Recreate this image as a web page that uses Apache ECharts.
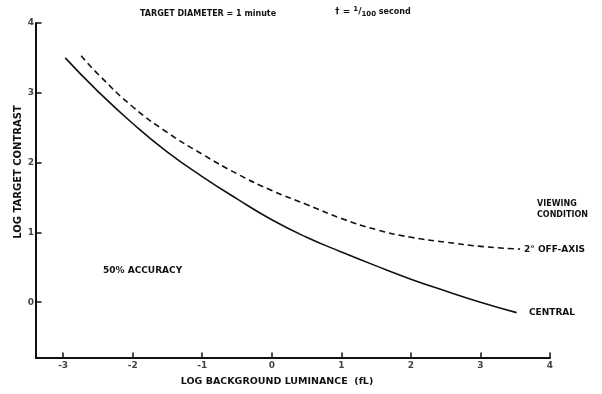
<!DOCTYPE html>
<html>
<head>
<meta charset="utf-8">
<script src="https://cdn.jsdelivr.net/npm/echarts@6/dist/echarts.min.js"></script>
<style>
  html, body { margin: 0; padding: 0; background: #fff; }
  #chart { width: 602px; height: 394px; }
</style>
</head>
<body>
<div id="chart"></div>
<script>
// Log background luminance (fL) vs log target contrast, 50% accuracy
const centralX = [-2.97, -2.5, -2, -1.5, -1, -0.5, 0, 0.5, 1, 1.5, 2, 2.5, 3, 3.52];
const centralY = [3.50, 3.02, 2.56, 2.15, 1.80, 1.48, 1.18, 0.93, 0.72, 0.52, 0.33, 0.16, 0.00, -0.15];
const offAxisX = [-2.74, -2.5, -2, -1.5, -1, -0.5, 0, 0.5, 1, 1.5, 2, 2.5, 3, 3.57];
const offAxisY = [3.53, 3.27, 2.80, 2.43, 2.12, 1.84, 1.60, 1.40, 1.20, 1.04, 0.93, 0.86, 0.80, 0.76];
const xTicks = [-3, -2, -1, 0, 1, 2, 3, 4];
const yTicks = [0, 1, 2, 3, 4];

const X_MIN = -3.39, X_MAX = 4, Y_MIN = -0.8, Y_MAX = 4;
const pairs = (xs, ys) => xs.map((x, i) => [x, ys[i]]);
const ink = '#111';
const font = 'DejaVu Sans';

const chart = echarts.init(document.getElementById('chart'));
chart.setOption({
  animation: false,
  backgroundColor: '#fff',
  grid: { left: 36, right: 52, top: 23, bottom: 36 },
  xAxis: {
    type: 'value', min: X_MIN, max: X_MAX,
    axisLine: { onZero: false, lineStyle: { color: ink, width: 2 } },
    axisTick: { show: false },
    splitLine: { show: false },
    axisLabel: { show: false }
  },
  yAxis: {
    type: 'value', min: Y_MIN, max: Y_MAX,
    axisLine: { onZero: false, lineStyle: { color: ink, width: 2 } },
    axisTick: { show: false },
    splitLine: { show: false },
    axisLabel: { show: false }
  },
  series: [
    {
      type: 'line', name: 'CENTRAL', smooth: 0.5, showSymbol: false,
      data: pairs(centralX, centralY),
      lineStyle: { color: ink, width: 1.6 },
      z: 3
    },
    {
      type: 'line', name: '2° OFF-AXIS', smooth: 0.5, showSymbol: false,
      data: pairs(offAxisX, offAxisY),
      lineStyle: { color: ink, width: 1.6, type: [6, 4] },
      z: 3
    },
    {
      // x-axis ticks and labels
      type: 'scatter', symbolSize: 0, silent: true,
      data: xTicks.map(v => [v, Y_MIN]),
      label: {
        show: true, position: 'bottom', distance: 3,
        formatter: p => String(p.value[0]),
        color: ink, fontFamily: font, fontWeight: 'bold', fontSize: 9
      },
      markLine: {
        silent: true, symbol: 'none', label: { show: false },
        lineStyle: { color: ink, width: 1.5, type: 'solid' },
        data: xTicks.map(v => [{ coord: [v, Y_MIN] }, { coord: [v, Y_MIN + 0.08] }])
      }
    },
    {
      // y-axis ticks and labels
      type: 'scatter', symbolSize: 0, silent: true,
      data: yTicks.map(v => [X_MIN, v]),
      label: {
        show: true, position: 'left', distance: 2,
        formatter: p => String(p.value[1]),
        color: ink, fontFamily: font, fontWeight: 'bold', fontSize: 9
      },
      markLine: {
        silent: true, symbol: 'none', label: { show: false },
        lineStyle: { color: ink, width: 1.5, type: 'solid' },
        data: yTicks.map(v => [{ coord: [X_MIN, v] }, { coord: [X_MIN + 0.08, v] }])
      }
    }
  ],
  graphic: [
    {
      type: 'text', x: 18, y: 172, rotation: Math.PI / 2,
      style: { text: 'LOG TARGET CONTRAST', fill: ink, font: 'bold 10px "DejaVu Sans"', align: 'center', verticalAlign: 'middle' }
    },
    {
      type: 'text', x: 277, y: 382,
      style: { text: 'LOG BACKGROUND LUMINANCE  (fL)', fill: ink, font: 'bold 9.5px "DejaVu Sans"', align: 'center', verticalAlign: 'middle' }
    },
    {
      type: 'text', left: 140, top: 10,
      style: { text: 'TARGET DIAMETER = 1 minute', fill: ink, font: 'bold 8px "DejaVu Sans"' }
    },
    {
      type: 'text', left: 335, top: 6,
      style: {
        text: '{a|† = }{sup|1}{b|/}{sub|100}{c| second}',
        rich: {
          a: { fill: ink, font: 'bold 9px "DejaVu Sans"' },
          sup: { fill: ink, font: 'bold 7px "DejaVu Sans"', padding: [0, 0, 5, 0] },
          b: { fill: ink, font: 'bold 9px "DejaVu Sans"' },
          sub: { fill: ink, font: 'bold 7px "DejaVu Sans"', padding: [5, 0, 0, 0] },
          c: { fill: ink, font: 'bold 8px "DejaVu Sans"' }
        }
      }
    },
    {
      type: 'text', left: 537, top: 198,
      style: { text: 'VIEWING\nCONDITION', fill: ink, font: 'bold 8px "DejaVu Sans"', lineHeight: 11 }
    },
    {
      type: 'text', left: 524, top: 245,
      style: { text: '2° OFF-AXIS', fill: ink, font: 'bold 9px "DejaVu Sans"' }
    },
    {
      type: 'text', left: 529, top: 308,
      style: { text: 'CENTRAL', fill: ink, font: 'bold 9px "DejaVu Sans"' }
    },
    {
      type: 'text', left: 103, top: 266,
      style: { text: '50% ACCURACY', fill: ink, font: 'bold 9px "DejaVu Sans"' }
    }
  ]
});
</script>
</body>
</html>
